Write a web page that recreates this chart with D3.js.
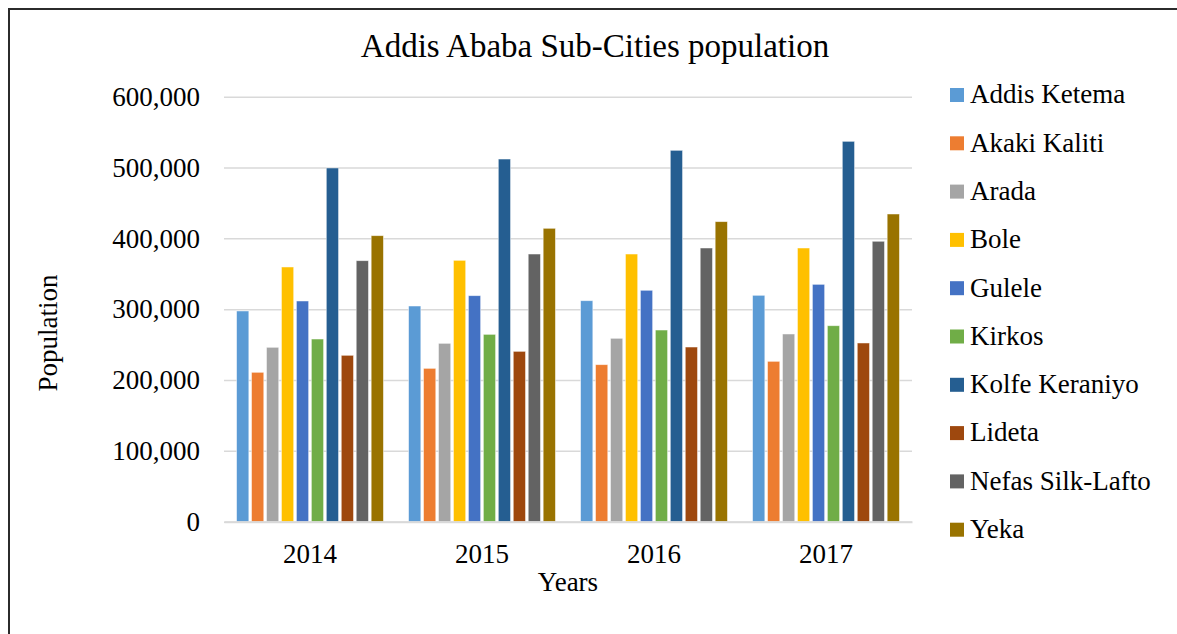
<!DOCTYPE html>
<html>
<head>
<meta charset="utf-8">
<script src="https://cdn.jsdelivr.net/npm/d3@7/dist/d3.min.js"></script>
<style>
  html, body { margin: 0; padding: 0; background: #fff; }
  svg { display: block; }
  text { font-family: "Liberation Serif", "Times New Roman", serif; fill: #000; }
</style>
</head>
<body>
<svg id="chart" width="1177" height="634"></svg>
<script>
// Population of the sub-cities by year
const years = ["2014", "2015", "2016", "2017"];
const subCities = ["Addis Ketema", "Akaki Kaliti", "Arada", "Bole", "Gulele",
                   "Kirkos", "Kolfe Keraniyo", "Lideta", "Nefas Silk-Lafto", "Yeka"];
const addisKetema    = [297500, 304500, 312000, 319600];
const akakiKaliti    = [210900, 216500, 221700, 226400];
const arada          = [246200, 251800, 258900, 265000];
const bole           = [359600, 369000, 377900, 386400];
const gulele         = [311600, 319100, 326700, 335100];
const kirkos         = [257900, 264500, 270600, 276700];
const kolfeKeraniyo  = [499400, 512000, 524300, 537000];
const lideta         = [234900, 240500, 246600, 252300];
const nefasSilkLafto = [368500, 377900, 386400, 395900];
const yeka           = [403800, 414200, 423600, 434400];
const yTicks = [0, 100000, 200000, 300000, 400000, 500000, 600000];
const colors = ["#5B9BD5", "#ED7D31", "#A5A5A5", "#FFC000", "#4472C4",
                "#70AD47", "#255E91", "#9E480E", "#636363", "#997300"];

const seriesValues = [addisKetema, akakiKaliti, arada, bole, gulele,
                      kirkos, kolfeKeraniyo, lideta, nefasSilkLafto, yeka];
const rows = years.map((yr, i) => ({
  year: yr,
  values: subCities.map((name, s) => ({ name, value: seriesValues[s][i] }))
}));

const svg = d3.select("#chart");
const plotLeft = 224, plotRight = 912, plotTop = 96.7, plotBottom = 521.7;
const serif = '"Liberation Serif", "Times New Roman", serif';

// outer frame (continues past the right and bottom edges)
svg.append("rect")
  .attr("x", 9).attr("y", 9).attr("width", 1300).attr("height", 800)
  .attr("fill", "none").attr("stroke", "#2b2b2b").attr("stroke-width", 2);

const x0 = d3.scaleBand().domain(years).range([plotLeft, plotRight]).padding(0);
const x1 = d3.scaleBand().domain(subCities).range([0, x0.bandwidth()])
  .paddingInner(0.18).paddingOuter(0.84);
const y = d3.scaleLinear().domain([0, 600000]).range([plotBottom, plotTop]);
const color = d3.scaleOrdinal().domain(subCities).range(colors);

// gridlines
svg.append("g")
  .attr("transform", `translate(${plotLeft},0)`)
  .call(d3.axisLeft(y).tickValues(yTicks).tickSize(-(plotRight - plotLeft)).tickFormat(""))
  .call(g => g.select(".domain").remove())
  .call(g => g.selectAll("line").attr("stroke", "#d9d9d9").attr("stroke-width", 1.5));

// y tick labels
svg.append("g")
  .attr("transform", `translate(${plotLeft},0)`)
  .call(d3.axisLeft(y).tickValues(yTicks).tickSize(0).tickPadding(24).tickFormat(d3.format(",")))
  .call(g => g.select(".domain").remove())
  .call(g => g.selectAll("text").attr("font-size", 27)
    .attr("font-family", serif).attr("fill", "#000"));

// bars
svg.append("g").selectAll("g")
  .data(rows)
  .join("g")
  .attr("transform", d => `translate(${x0(d.year)},0)`)
  .selectAll("rect")
  .data(d => d.values)
  .join("rect")
  .attr("x", d => x1(d.name))
  .attr("y", d => y(d.value))
  .attr("width", x1.bandwidth())
  .attr("height", d => y(0) - y(d.value))
  .attr("fill", d => color(d.name))
  .attr("stroke", "#ffffff").attr("stroke-opacity", 0.6).attr("stroke-width", 0.8);

// x axis (baseline + year labels)
svg.append("g")
  .attr("transform", `translate(0,${plotBottom})`)
  .call(d3.axisBottom(x0).tickSize(0).tickPadding(22))
  .call(g => g.select(".domain").attr("stroke", "#d9d9d9").attr("stroke-width", 2))
  .call(g => g.selectAll("text").attr("font-size", 27)
    .attr("font-family", serif).attr("fill", "#000"));

// title
svg.append("text")
  .attr("x", 595).attr("y", 57)
  .attr("text-anchor", "middle").attr("font-size", 33)
  .text("Addis Ababa Sub-Cities population");

// axis titles
svg.append("text")
  .attr("x", (plotLeft + plotRight) / 2).attr("y", 591)
  .attr("text-anchor", "middle").attr("font-size", 27)
  .text("Years");
svg.append("text")
  .attr("transform", "translate(57,333) rotate(-90)")
  .attr("text-anchor", "middle").attr("font-size", 27)
  .text("Population");

// legend
const legend = svg.append("g").selectAll("g")
  .data(subCities)
  .join("g")
  .attr("transform", (d, i) => `translate(950,${95 + i * 48.3})`);
legend.append("rect")
  .attr("x", 0).attr("y", -7).attr("width", 14).attr("height", 14)
  .attr("fill", d => color(d));
legend.append("text")
  .attr("x", 20).attr("y", 0).attr("dy", "0.31em")
  .attr("font-size", 27)
  .text(d => d);
</script>
</body>
</html>
